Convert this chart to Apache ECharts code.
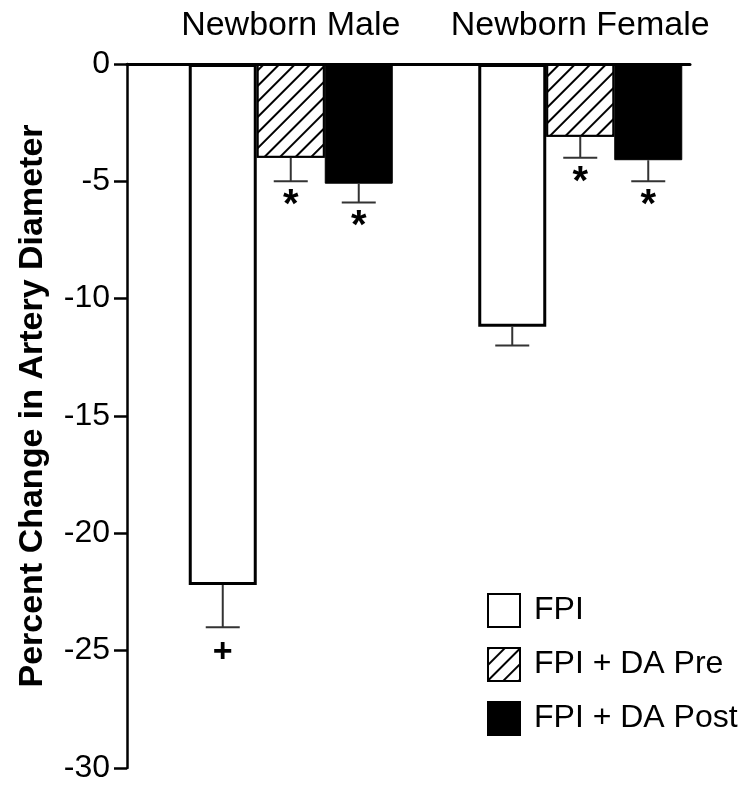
<!DOCTYPE html>
<html>
<head>
<meta charset="utf-8">
<script src="https://cdn.jsdelivr.net/npm/echarts@6/dist/echarts.min.js"></script>
<style>
  html, body { margin: 0; padding: 0; background: #fff; }
  #chart { width: 747px; height: 785px; }
</style>
</head>
<body>
<div id="chart"></div>
<script>
// categories and series
const groups = ['Newborn Male', 'Newborn Female'];
const seriesNames = ['FPI', 'FPI + DA Pre', 'FPI + DA Post'];
const fpiValues = [-22.2, -11.2];
const preValues = [-4.0, -3.1];
const postValues = [-5.1, -4.1];
const fpiErr = [1.8, 0.8];
const preErr = [1.0, 0.9];
const postErr = [0.8, 0.9];
const fpiMarks = ['+', ''];
const preMarks = ['*', '*'];
const postMarks = ['*', '*'];
const yTicks = [0, -5, -10, -15, -20, -25, -30];

const FONT = 'Liberation Sans, Arial, sans-serif';
const BAR_W = 68;

const chart = echarts.init(document.getElementById('chart'));

// error bar drawn below each bar, with a mark under the cap
function errorSeries(name, values, errs, marks, slot) {
    return {
        name: name + ' err',
        type: 'custom',
        xAxisIndex: 0,
        yAxisIndex: 0,
        silent: true,
        z: 5,
        data: values.map((v, i) => [i, v, v - errs[i]]),
        renderItem: function (params, api) {
            const i = api.value(0);
            const top = api.coord([i, api.value(1)]);
            const bot = api.coord([i, api.value(2)]);
            const x = top[0] + (slot - 1) * BAR_W;
            const capHalf = 17;
            const mark = marks[i];
            const children = [
                { type: 'line', shape: { x1: x, y1: top[1], x2: x, y2: bot[1] },
                  style: { stroke: '#333', lineWidth: 2 } },
                { type: 'line', shape: { x1: x - capHalf, y1: bot[1], x2: x + capHalf, y2: bot[1] },
                  style: { stroke: '#333', lineWidth: 2 } }
            ];
            if (mark) {
                children.push({
                    type: 'text',
                    style: {
                        text: mark, x: x, y: bot[1] + (mark === '+' ? 8 : 5),
                        align: 'center', verticalAlign: 'top',
                        fontFamily: FONT, fontSize: mark === '+' ? 34 : 40,
                        fontWeight: 'bold', fill: '#000'
                    }
                });
            }
            return { type: 'group', children: children };
        }
    };
}

const option = {
    backgroundColor: '#fff',
    animation: false,
    grid: [
        { left: 146, width: 579, top: 64, height: 704 },
        { left: 127, right: 57, top: 64, height: 704 }
    ],
    legend: {
        orient: 'vertical',
        left: 482,
        top: 588,
        icon: 'rect',
        itemWidth: 32,
        itemHeight: 33,
        itemGap: 19,
        data: seriesNames,
        textStyle: { fontFamily: FONT, fontSize: 32, color: '#000', padding: [0, 0, 0, 9] }
    },
    xAxis: [
        {
            type: 'category',
            gridIndex: 0,
            position: 'top',
            data: groups,
            axisLine: { show: false },
            axisTick: { show: false },
            axisLabel: { interval: 0, hideOverlap: false, margin: 21, fontFamily: FONT, fontSize: 34, color: '#000' }
        },
        {
            type: 'value',
            gridIndex: 1,
            position: 'top',
            min: 0,
            max: 1,
            axisLine: { show: true, onZero: false, lineStyle: { color: '#000', width: 3 } },
            axisTick: { show: false },
            axisLabel: { show: false },
            splitLine: { show: false }
        }
    ],
    yAxis: [
        {
            type: 'value',
            gridIndex: 0,
            min: -30,
            max: 0,
            interval: 5,
            offset: 19,
            name: 'Percent Change in Artery Diameter',
            nameLocation: 'middle',
            nameGap: 77,
            nameTextStyle: {
                fontFamily: FONT, fontSize: 34, fontWeight: 'bold', color: '#000',
                padding: [0, 0, 0, 20]
            },
            axisLine: { show: true, lineStyle: { color: '#000', width: 2.5 } },
            axisTick: { show: true, length: 13, lineStyle: { color: '#000', width: 2.5 } },
            axisLabel: {
                margin: 17, fontFamily: FONT, fontSize: 32, color: '#000',
                formatter: v => (yTicks.indexOf(v) >= 0 ? String(v) : '')
            },
            splitLine: { show: false }
        },
        {
            type: 'value',
            gridIndex: 1,
            min: -30,
            max: 0,
            show: false
        }
    ],
    series: [
        {
            name: seriesNames[0],
            type: 'bar',
            barWidth: BAR_W,
            barGap: '0%',
            data: fpiValues,
            itemStyle: { color: '#fff', borderColor: '#000', borderWidth: 3 }
        },
        {
            name: seriesNames[1],
            type: 'bar',
            barWidth: BAR_W,
            barGap: '0%',
            data: preValues,
            itemStyle: {
                color: '#fff', borderColor: '#000', borderWidth: 2,
                decal: {
                    symbol: 'rect',
                    color: '#000',
                    backgroundColor: '#fff',
                    dashArrayX: [1, 0],
                    dashArrayY: [1.5, 9],
                    rotation: -Math.PI / 4
                }
            }
        },
        {
            name: seriesNames[2],
            type: 'bar',
            barWidth: BAR_W,
            barGap: '0%',
            data: postValues,
            itemStyle: { color: '#000', borderColor: '#000', borderWidth: 1 }
        },
        errorSeries(seriesNames[0], fpiValues, fpiErr, fpiMarks, 0),
        errorSeries(seriesNames[1], preValues, preErr, preMarks, 1),
        errorSeries(seriesNames[2], postValues, postErr, postMarks, 2)
    ]
};

chart.setOption(option);
</script>
</body>
</html>
